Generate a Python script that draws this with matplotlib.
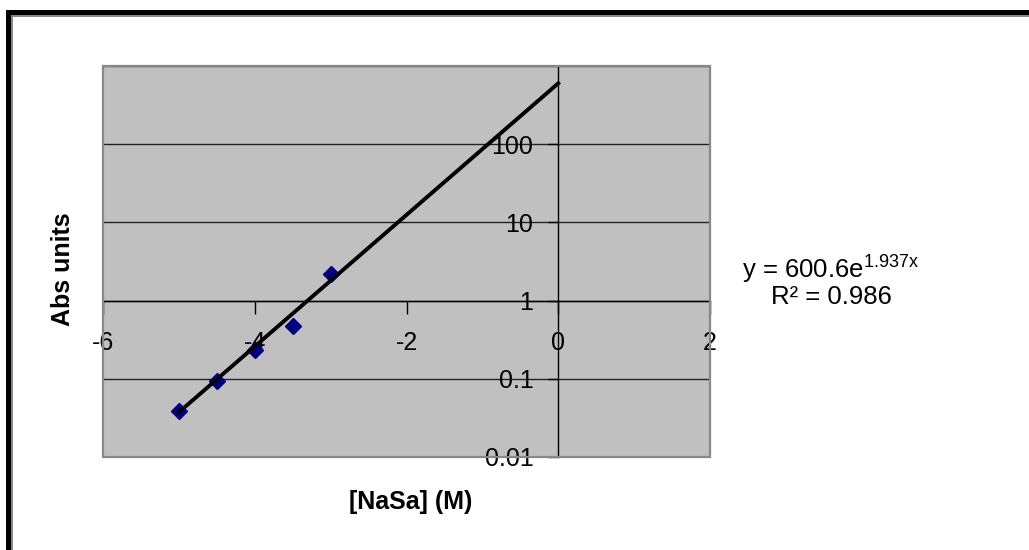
import matplotlib
matplotlib.use("Agg")
import matplotlib.pyplot as plt
import numpy as np
from matplotlib.patches import Rectangle

plt.rcParams['font.family'] = ['Liberation Sans', 'DejaVu Sans']
plt.rcParams['mathtext.fontset'] = 'custom'
plt.rcParams['mathtext.rm'] = 'Liberation Sans'
plt.rcParams['mathtext.it'] = 'Liberation Sans:italic'

# data points
conc = [-5.0, -4.5, -4.0, -3.5, -3.0]
absorb = [0.039, 0.095, 0.236, 0.48, 2.2]

# exponential trendline shown on the chart
trend_a = 600.6
trend_b = 1.937
trend_x = [-5.0, 0.0]
eq_text = "y = 600.6e$^{\\mathrm{1.937x}}$"
r2_text = "R\u00b2 = 0.986"

x_ticks = [-6, -4, -2, 0, 2]
y_ticks = [0.01, 0.1, 1, 10, 100]
y_tick_labels = ["0.01", "0.1", "1", "10", "100"]
y_grid = [0.1, 1, 10, 100, 1000]

W, H = 1029, 550
fig = plt.figure(figsize=(W / 100, H / 100), dpi=100)
ax = fig.add_axes([103 / W, 1 - 457 / H, (710 - 103) / W, (457 - 66) / H])
ax.set_facecolor('#c0c0c0')

ax.set_yscale('log')
ax.set_xlim(-6, 2)
ax.set_ylim(0.01, 1000)

for g in y_grid:
    ax.axhline(g, color='#222222', lw=1.0, zorder=1)

tx = np.array(trend_x)
ax.plot(tx, trend_a * np.exp(trend_b * tx), color='black', lw=2.8, zorder=3)
ax.plot(conc, absorb, linestyle='none', marker='D', markersize=8,
        color='#000080', zorder=2)

# axes crossing at x=0 and y=1
ax.spines['left'].set_position(('data', 0))
ax.spines['bottom'].set_position(('data', 1))
ax.spines['top'].set_visible(False)
ax.spines['right'].set_visible(False)
for s in ['left', 'bottom']:
    ax.spines[s].set_color('black')
    ax.spines[s].set_linewidth(1.0)
    ax.spines[s].set_zorder(2.5)

ax.set_xticks(x_ticks)
ax.set_xticklabels([str(t) for t in x_ticks])
ax.set_yticks(y_ticks)
ax.set_yticklabels(y_tick_labels)
ax.yaxis.set_minor_locator(matplotlib.ticker.NullLocator())
ax.tick_params(axis='x', direction='out', length=9, width=1, pad=13,
               labelsize=18)
ax.tick_params(axis='y', direction='out', length=7, width=1, pad=11,
               labelsize=18)

# plot area border
ax.add_patch(Rectangle((0, 0), 1, 1, transform=ax.transAxes, fill=False,
                       edgecolor='#888888', lw=1.6, clip_on=False, zorder=4))

fig.text(63 / W, 1 - 269 / H, "Abs units", rotation=90, ha='center',
         va='center', fontsize=18, fontweight='bold')
fig.text(411 / W, 1 - 502 / H, "[NaSa] (M)", ha='center', va='center',
         fontsize=18, fontweight='bold')

fig.text(831 / W, 1 - 270 / H, eq_text, ha='center', va='center', fontsize=18.5)
fig.text(831 / W, 1 - 297 / H, r2_text, ha='center', va='center', fontsize=18.5)

# frame lines on top and left of the picture
fig.add_artist(Rectangle((6 / W, 1 - 15 / H), 1, 5 / H, transform=fig.transFigure,
                         facecolor='black', edgecolor='none'))
fig.add_artist(Rectangle((6 / W, 1 - 16.5 / H), 1, 1.5 / H, transform=fig.transFigure,
                         facecolor='#888888', edgecolor='none'))
fig.add_artist(Rectangle((6 / W, 0), 4.5 / W, 1 - 10 / H, transform=fig.transFigure,
                         facecolor='black', edgecolor='none'))
fig.add_artist(Rectangle((11 / W, 0), 1.5 / W, 1 - 15 / H, transform=fig.transFigure,
                         facecolor='#888888', edgecolor='none'))

fig.savefig("out.png", dpi=100)
